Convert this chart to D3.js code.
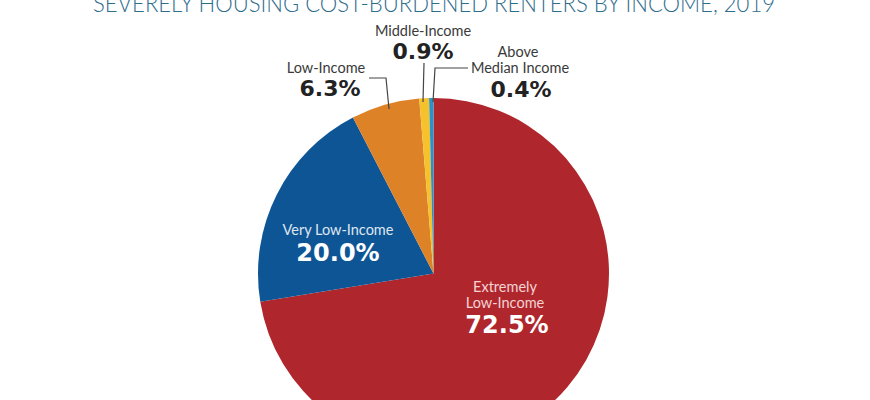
<!DOCTYPE html>
<html><head><meta charset="utf-8">
<script src="https://cdn.jsdelivr.net/npm/d3@7"></script>
<style>html,body{margin:0;padding:0;background:#fff;}svg{display:block;}</style>
</head><body>
<script>
const categories = ["Extremely Low-Income","Very Low-Income","Low-Income","Middle-Income","Above Median Income"];
const values = [72.5, 20.0, 6.3, 0.9, 0.4];
const valueLabels = ["72.5%","20.0%","6.3%","0.9%","0.4%"];
const colors = ["#b0262d","#0e5596","#de8228","#f5c22e","#2a92c8"];
const title = "SEVERELY HOUSING COST-BURDENED RENTERS BY INCOME, 2019";

const W=870,H=400;
const svg=d3.select("body").append("svg").attr("width",W).attr("height",H);
const font="Lato, 'Open Sans', sans-serif";
const boldFont="'DejaVu Sans', Lato, sans-serif";

svg.append("text").attr("x",434).attr("y",12).attr("text-anchor","middle")
  .attr("font-family",font).attr("font-weight",300).attr("font-size",23)
  .attr("fill","#2f6d8d").attr("textLength",682).attr("lengthAdjust","spacingAndGlyphs")
  .text(title);

const cx=433.5, cy=273.5, r=175.5;
const pie=d3.pie().sort(null).value(d=>d);
const arcs=pie(values);
const arc=d3.arc().innerRadius(0).outerRadius(r);
const g=svg.append("g").attr("transform",`translate(${cx},${cy})`);
g.selectAll("path").data(arcs).enter().append("path")
  .attr("d",arc).attr("fill",(d,i)=>colors[i]);

// leader lines
const lines=[
  [[369,78],[386,78],[389,109]],
  [[424,63],[423,102]],
  [[468,68],[435,68],[433,102]]
];
svg.selectAll("path.leader").data(lines).enter().append("path").attr("class","leader")
  .attr("d",d3.line()).attr("fill","none").attr("stroke","#444").attr("stroke-width",1.2);

function label(x,y,txt,size,weight,fill,ff){
  svg.append("text").attr("x",x).attr("y",y).attr("text-anchor","middle")
    .attr("font-family",ff||font).attr("font-size",size).attr("font-weight",weight)
    .attr("fill",fill).text(txt);
}
// outside labels
label(423,36,categories[3],14.5,400,"#3a3a3a");
label(423,59,valueLabels[3],22,700,"#222",boldFont);
label(326,73,categories[2],14.5,400,"#3a3a3a");
label(330,96,valueLabels[2],22,700,"#222",boldFont);
label(518,57,"Above",14.5,400,"#3a3a3a");
label(520,73,"Median Income",14.5,400,"#3a3a3a");
label(521,97,valueLabels[4],22,700,"#222",boldFont);
// inside labels
label(338,235,categories[1],14.5,400,"#dfe6f0");
label(338,261,valueLabels[1],24,700,"#ffffff",boldFont);
label(505,292,"Extremely",14.5,400,"#f3d3d3");
label(505,308,"Low-Income",14.5,400,"#f3d3d3");
label(507,333,valueLabels[0],24,700,"#ffffff",boldFont);
</script>
</body></html>
